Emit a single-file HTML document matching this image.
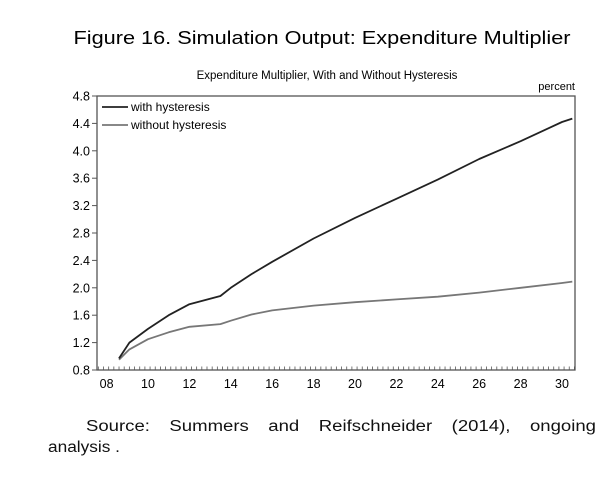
<!DOCTYPE html>
<html><head><meta charset="utf-8"><style>
body{margin:0;background:#fff;width:606px;height:481px;overflow:hidden;font-family:"Liberation Sans",sans-serif}
</style></head><body>
<svg width="606" height="481">
<text x="322" y="44" text-anchor="middle" font-size="18" fill="#000" textLength="497" lengthAdjust="spacingAndGlyphs">Figure 16.  Simulation Output: Expenditure Multiplier</text>
<text x="327" y="79" text-anchor="middle" font-size="11.5" fill="#000">Expenditure Multiplier, With and Without Hysteresis</text>
<text x="575" y="90" text-anchor="end" font-size="11" fill="#000">percent</text>
<rect x="97" y="96" width="478" height="274" fill="none" stroke="#555" stroke-width="1.3"/>
<g id="yax"></g><g id="xax"></g><g id="series"></g>
<g>
<line x1="102" y1="107" x2="128" y2="107" stroke="#222" stroke-width="1.8"/>
<text x="131" y="111" font-size="12">with hysteresis</text>
<line x1="102" y1="125" x2="128" y2="125" stroke="#777" stroke-width="1.8"/>
<text x="131" y="129" font-size="12">without hysteresis</text>
</g>
<text x="86" y="431" font-size="15.5" fill="#111" word-spacing="12" textLength="510" lengthAdjust="spacingAndGlyphs">Source:  Summers  and  Reifschneider  (2014),  ongoing</text>
<text x="48" y="452" font-size="15.5" fill="#111" textLength="72" lengthAdjust="spacingAndGlyphs">analysis .</text>
</svg>
<script>
const years=[8.6,9.1,10,11,12,13.5,14,15,16,18,20,22,24,26,28,30,30.5];
const withH=[0.97,1.2,1.4,1.6,1.76,1.88,2.0,2.2,2.38,2.72,3.02,3.3,3.58,3.88,4.14,4.42,4.47];
const withoutH=[0.95,1.1,1.25,1.35,1.43,1.47,1.52,1.61,1.67,1.74,1.79,1.83,1.87,1.93,2.0,2.07,2.09];
const yTicks=[0.8,1.2,1.6,2.0,2.4,2.8,3.2,3.6,4.0,4.4,4.8];
const xTicks=["08","10","12","14","16","18","20","22","24","26","28","30"];
const NS="http://www.w3.org/2000/svg";
function X(yr){return 148+(yr-10)*20.7;}
function Y(v){return 370-(v-0.8)*68.5;}
function mk(t,a,p){const e=document.createElementNS(NS,t);for(const k in a)e.setAttribute(k,a[k]);p.appendChild(e);return e;}
const ya=document.getElementById('yax');
yTicks.forEach(v=>{
 const l=mk('line',{x1:92,x2:97,y1:Y(v),y2:Y(v),stroke:'#555'},ya);
 
 
 const t=mk('text',{x:90,y:Y(v)+4.5,'text-anchor':'end','font-size':12.5},ya);
 t.textContent=v.toFixed(1);
 
 
});
const xa=document.getElementById('xax');
for(let q=7.6;q<=30.6;q+=0.25){
 const x=X(q);if(x<97||x>575)continue;
 const l=mk('line',{x1:x,x2:x,y1:370,y2:366.5,stroke:'#555','stroke-width':0.8},xa);
 
 
}
xTicks.forEach(s=>{
 const t=mk('text',{x:X(parseInt(s,10)),y:388,'text-anchor':'middle','font-size':12.5},xa);
 t.textContent=s;
 
 
});
const sg=document.getElementById('series');
function line(vals,col,name){
 const d=vals.map((v,i)=>(i?'L':'M')+X(years[i]).toFixed(1)+','+Y(v).toFixed(1)).join(' ');
 const p=mk('path',{d:d,fill:'none',stroke:col,'stroke-width':1.8,'stroke-linejoin':'round'},sg);
 
 
}
line(withoutH,'#777','line-without-hysteresis');
line(withH,'#222','line-with-hysteresis');
</script>
</body></html>
